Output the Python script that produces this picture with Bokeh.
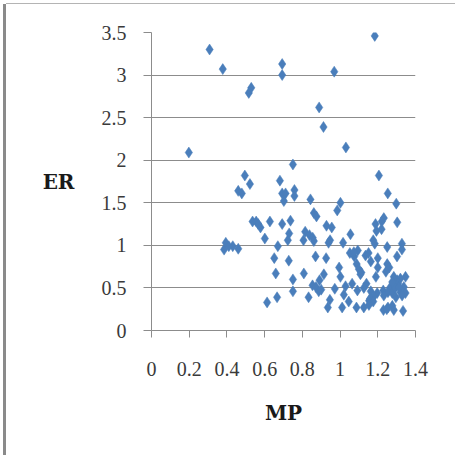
from bokeh.plotting import figure
from bokeh.models import Range1d, FixedTicker
from bokeh.embed import file_html
from bokeh.resources import INLINE

# Data (MP, ER)
mp = [0.198, 0.308, 0.378, 0.516, 0.529, 0.693, 0.693, 0.969, 1.184, 0.889,
      0.912, 1.031, 0.750, 1.206, 0.495, 0.522, 0.460, 0.479, 0.681, 0.693,
      0.711, 0.702, 0.758, 0.758, 0.843, 1.002, 0.985, 1.253, 1.298, 1.232,
      1.221, 1.303, 1.188, 1.193, 1.220, 0.536, 0.555, 0.566, 0.578, 0.628,
      0.693, 0.737, 0.730, 0.723, 0.861, 0.875, 0.815, 0.838, 0.855, 0.806,
      0.861, 0.928, 0.956, 0.947, 0.939, 1.055, 1.016, 1.176, 1.184, 0.601,
      0.385, 0.394, 0.431, 0.460, 0.410, 0.670, 1.250, 1.328, 1.328, 0.651,
      0.728, 0.870, 0.926, 1.075, 1.052, 1.094, 1.073, 1.135, 1.151, 1.200,
      1.302, 0.995, 1.088, 1.100, 1.113, 1.200, 1.250, 1.261, 1.163, 0.659,
      0.808, 0.914, 1.002, 1.108, 1.190, 1.243, 0.750, 0.891, 1.064, 1.140,
      1.285, 1.303, 1.320, 1.347, 0.854, 0.872, 0.972, 1.092, 1.126, 1.229,
      1.264, 1.285, 1.308, 1.338, 0.887, 0.900, 0.750, 1.163, 1.254, 1.277,
      1.347, 1.320, 1.329, 1.020, 1.232, 1.296, 1.197, 1.179, 1.158, 1.046,
      0.833, 0.666, 0.613, 0.946, 1.154, 1.176, 0.935, 1.011, 1.087, 1.126,
      1.153, 1.254, 1.277, 1.230, 1.248, 1.285, 1.334, 1.293, 1.277, 1.312,
      1.029]
er = [2.09, 3.30, 3.07, 2.79, 2.85, 3.13, 3.00, 3.04, 3.46, 2.62,
      2.39, 2.15, 1.95, 1.82, 1.82, 1.72, 1.64, 1.61, 1.76, 1.61,
      1.61, 1.52, 1.65, 1.58, 1.54, 1.50, 1.41, 1.61, 1.49, 1.32,
      1.28, 1.27, 1.25, 1.17, 1.19, 1.28, 1.28, 1.25, 1.21, 1.28,
      1.25, 1.29, 1.14, 1.06, 1.38, 1.34, 1.16, 1.12, 1.09, 1.06,
      1.05, 1.23, 1.21, 1.06, 1.03, 1.13, 1.03, 1.06, 1.02, 1.08,
      0.95, 1.03, 0.99, 0.96, 0.99, 0.99, 0.98, 1.02, 0.95, 0.85,
      0.82, 0.87, 0.85, 0.87, 0.91, 0.94, 0.92, 0.88, 0.91, 0.85,
      0.87, 0.74, 0.78, 0.72, 0.68, 0.74, 0.78, 0.74, 0.81, 0.67,
      0.67, 0.66, 0.63, 0.66, 0.63, 0.69, 0.60, 0.59, 0.55, 0.55,
      0.63, 0.59, 0.61, 0.63, 0.53, 0.51, 0.49, 0.47, 0.50, 0.47,
      0.50, 0.53, 0.55, 0.51, 0.46, 0.48, 0.46, 0.46, 0.45, 0.44,
      0.44, 0.45, 0.41, 0.42, 0.41, 0.39, 0.44, 0.40, 0.37, 0.34,
      0.39, 0.39, 0.33, 0.36, 0.35, 0.34, 0.27, 0.27, 0.27, 0.27,
      0.30, 0.27, 0.29, 0.24, 0.25, 0.24, 0.23, 0.50, 0.57, 0.51,
      0.52]

x_ticks = [0, 0.2, 0.4, 0.6, 0.8, 1, 1.2, 1.4]
y_ticks = [0, 0.5, 1, 1.5, 2, 2.5, 3, 3.5]
x_title = "MP"
y_title = "ER"

W, H = 449, 451
p = figure(width=W, height=H, output_backend="svg", toolbar_location=None,
           x_range=Range1d(0, 1.4), y_range=Range1d(0, 3.5),
           min_border_left=145, min_border_right=40,
           min_border_top=28, min_border_bottom=125)
p.outline_line_color = None
p.background_fill_color = "white"
p.border_fill_color = "white"

p.xgrid.visible = False
p.ygrid.grid_line_color = "#8c8c8c"
p.ygrid.grid_line_width = 1
p.ygrid.ticker = FixedTicker(ticks=y_ticks)

for ax in (p.xaxis[0], p.yaxis[0]):
    ax.axis_line_color = "#8c8c8c"
    ax.major_tick_line_color = "#8c8c8c"
    ax.minor_tick_line_color = None
    ax.major_tick_in = 0
    ax.major_label_text_font = "Liberation Serif"
    ax.major_label_text_font_size = "20px"
    ax.major_label_text_color = "#3a3a3a"
    ax.axis_label_text_font = "DejaVu Serif"
    ax.axis_label_text_font_style = "bold"
    ax.axis_label_text_font_size = "20px"
    ax.axis_label_text_color = "#1a1a1a"

p.xaxis.major_tick_out = 7
p.yaxis.major_tick_out = 8
p.xaxis.ticker = FixedTicker(ticks=x_ticks)
p.yaxis.ticker = FixedTicker(ticks=y_ticks)
p.xaxis.major_label_overrides = {t: f"{t:g}" for t in x_ticks}
p.yaxis.major_label_overrides = {t: f"{t:g}" for t in y_ticks}
p.xaxis.major_label_standoff = 24
p.yaxis.major_label_standoff = 17

p.xaxis.axis_label = x_title
p.xaxis.axis_label_standoff = 22
p.yaxis.axis_label = y_title
p.yaxis.axis_label_orientation = "horizontal"
p.yaxis.axis_label_standoff = 24

p.scatter(mp, er, marker="diamond", size=11, fill_color="#4a7ebb",
          line_color="#4a7ebb", line_width=0.5)

p.styles = {"margin-left": "6px", "margin-top": "4px",
            "box-shadow": "-3px 0 0 0 #8a8a8a, 0 -1px 0 0 #b4b4b4"}

open("out.html", "w").write(file_html(p, INLINE))
